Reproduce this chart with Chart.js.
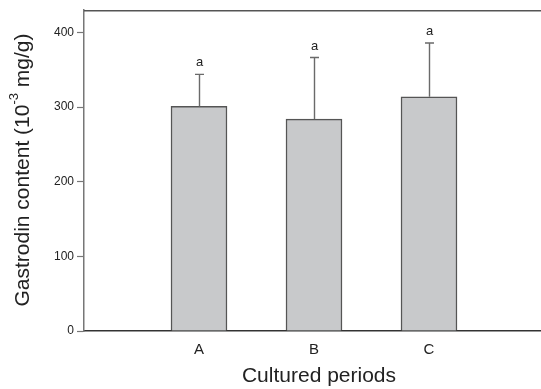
<!DOCTYPE html>
<html>
<head>
<meta charset="utf-8">
<script src="https://cdn.jsdelivr.net/npm/chart.js@4"></script>
<style>
  html, body { margin: 0; padding: 0; background: #fff; overflow: hidden; }
  #wrap { width: 541px; height: 389px; }
</style>
</head>
<body>
<div id="wrap"><canvas id="c" width="541" height="389"></canvas></div>
<script>
// Gastrodin content for each cultured period (mean, SD) and significance letters
const periods = ['A', 'B', 'C'];
const positions = [1, 2, 3];
const gastrodin = [301, 284, 314];
const sd = [43, 82.5, 72];
const letters = ['a', 'a', 'a'];
const yTicks = [0, 100, 200, 300, 400];

const FONT = '"Liberation Sans", Arial, Helvetica, sans-serif';

// Error bars, significance letters, top frame line and axis titles
const decorations = {
  id: 'decorations',
  afterDatasetsDraw(chart) {
    const { ctx, chartArea, scales } = chart;
    const x = scales.x, y = scales.y;
    ctx.save();
    // top frame line
    ctx.strokeStyle = '#555';
    ctx.lineWidth = 1.5;
    ctx.beginPath();
    ctx.moveTo(chartArea.left, chartArea.top + 0.5);
    ctx.lineTo(chartArea.right, chartArea.top + 0.5);
    ctx.stroke();

    // error bars (upper half) and letters
    ctx.strokeStyle = '#6a6a6a';
    ctx.lineWidth = 1.4;
    ctx.fillStyle = '#222';
    ctx.font = '13px ' + FONT;
    ctx.textAlign = 'center';
    ctx.textBaseline = 'alphabetic';
    positions.forEach((p, i) => {
      const px = Math.round(x.getPixelForValue(p)) + 0.5;
      const yTop = y.getPixelForValue(gastrodin[i]);
      const yErr = y.getPixelForValue(gastrodin[i] + sd[i]);
      ctx.beginPath();
      ctx.moveTo(px, yTop);
      ctx.lineTo(px, yErr);
      ctx.moveTo(px - 4.5, yErr);
      ctx.lineTo(px + 4.5, yErr);
      ctx.stroke();
      ctx.fillText(letters[i], px, yErr - 8);
    });

    // x-axis title
    ctx.fillStyle = '#222';
    ctx.font = '21px ' + FONT;
    ctx.textAlign = 'center';
    ctx.textBaseline = 'middle';
    ctx.fillText('Cultured periods', 319, 376);

    // y-axis title with superscript
    const main1 = 'Gastrodin content (10';
    const sup = '-3';
    const main2 = ' mg/g)';
    ctx.font = '21px ' + FONT;
    const w1 = ctx.measureText(main1).width;
    const w3 = ctx.measureText(main2).width;
    ctx.font = '13px ' + FONT;
    const w2 = ctx.measureText(sup).width;
    const total = w1 + w2 + w3;
    ctx.translate(29, 170);
    ctx.rotate(-Math.PI / 2);
    ctx.textAlign = 'left';
    ctx.textBaseline = 'alphabetic';
    let cx = -total / 2;
    ctx.font = '21px ' + FONT;
    ctx.fillText(main1, cx, 0);
    cx += w1;
    ctx.font = '13px ' + FONT;
    ctx.fillText(sup, cx, -11);
    cx += w2;
    ctx.font = '21px ' + FONT;
    ctx.fillText(main2, cx, 0);
    ctx.restore();
  }
};

new Chart(document.getElementById('c'), {
  type: 'bar',
  data: {
    datasets: [{
      data: positions.map((p, i) => ({ x: p, y: gastrodin[i] })),
      backgroundColor: '#c8c9cb',
      borderColor: '#555',
      borderWidth: 1.5,
      barThickness: 56
    }]
  },
  options: {
    responsive: false,
    animation: false,
    devicePixelRatio: 1,
    layout: { padding: { top: 8, right: 0, left: 0, bottom: 0 } },
    plugins: { legend: { display: false }, tooltip: { enabled: false } },
    scales: {
      x: {
        type: 'linear',
        offset: false,
        min: 0,
        max: 457 / 115,
        afterBuildTicks(scale) { scale.ticks = positions.map(v => ({ value: v })); },
        afterFit(scale) { scale.height = 58; },
        grid: { display: false, drawTicks: false, offset: false },
        border: { display: true, color: '#333', width: 1.5 },
        ticks: {
          padding: 10,
          color: '#222',
          font: { family: FONT, size: 15 },
          maxRotation: 0,
          callback: (v) => periods[positions.indexOf(v)] ?? ''
        }
      },
      y: {
        min: 0,
        max: 430,
        afterBuildTicks(scale) { scale.ticks = yTicks.map(v => ({ value: v })); },
        afterFit(scale) { scale.width = 84; },
        grid: { drawOnChartArea: false, drawTicks: true, tickLength: 7, color: '#777', tickWidth: 1.2 },
        border: { display: true, color: '#777', width: 1.5 },
        ticks: {
          padding: 3,
          color: '#222',
          font: { family: FONT, size: 12 }
        }
      }
    }
  },
  plugins: [decorations]
});
</script>
</body>
</html>
